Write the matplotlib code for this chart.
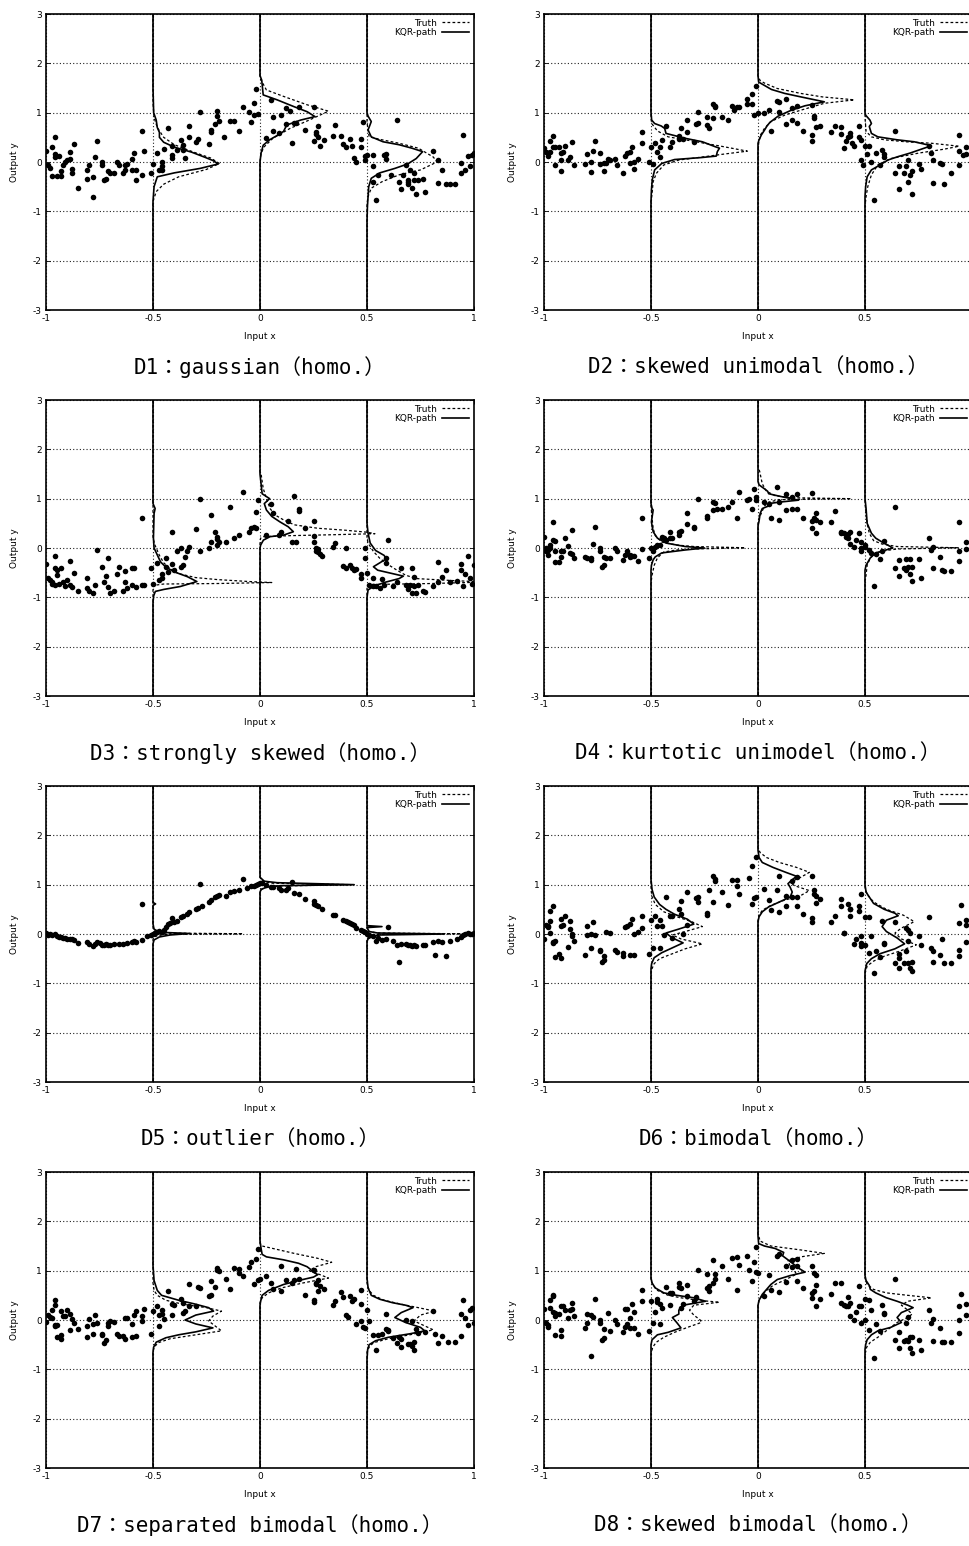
import numpy as np
import matplotlib
matplotlib.use('Agg')
import matplotlib.pyplot as plt
from matplotlib.lines import Line2D
from matplotlib import font_manager as fm

plt.rcParams['axes.unicode_minus'] = False

LOCS = [-0.5, 0.0, 0.5]
TITLES = ['D1：gaussian（homo.）', 'D2：skewed unimodal（homo.）',
          'D3：strongly skewed（homo.）', 'D4：kurtotic unimodel（homo.）',
          'D5：outlier（homo.）', 'D6：bimodal（homo.）',
          'D7：separated bimodal（homo.）', 'D8：skewed bimodal（homo.）']

# ---------------- D1 ----------------
d1_pts = [(-1.0,0.23),(-0.99,-0.07),(-0.98,-0.13),(-0.97,-0.28),(-0.97,0.31),(-0.96,0.51),(-0.96,0.11),(-0.96,0.16),
    (-0.95,-0.28),(-0.94,0.12),(-0.93,-0.18),(-0.93,-0.28),(-0.92,-0.07),(-0.91,0.0),(-0.90,0.05),(-0.89,0.2),(-0.89,0.07),
    (-0.88,-0.23),(-0.88,-0.15),(-0.87,0.37),(-0.85,-0.53),(-0.81,-0.16),(-0.81,-0.35),(-0.80,-0.06),(-0.78,-0.7),(-0.78,-0.3),
    (-0.77,0.1),(-0.76,0.43),(-0.74,0.01),(-0.74,-0.06),(-0.73,-0.37),(-0.72,-0.34),(-0.71,-0.18),(-0.70,-0.23),(-0.68,-0.23),
    (-0.67,0.01),(-0.66,-0.07),(-0.64,-0.23),(-0.63,-0.07),(-0.63,-0.16),(-0.62,-0.05),(-0.60,-0.16),(-0.60,0.07),(-0.59,0.18),
    (-0.58,-0.16),(-0.58,-0.37),(-0.55,-0.26),(-0.55,0.62),(-0.54,0.23),(-0.51,-0.22),(-0.50,-0.05),(-0.48,0.18),(-0.47,-0.16),
    (-0.46,-0.09),(-0.46,-0.16),(-0.46,-0.01),(-0.45,0.26),(-0.43,0.68),(-0.41,0.33),(-0.41,0.14),(-0.41,0.09),(-0.39,0.24),
    (-0.37,0.45),(-0.36,0.24),(-0.36,0.35),(-0.35,0.08),(-0.33,0.72),(-0.33,0.5),(-0.30,0.41),(-0.29,0.46),(-0.28,1.01),
    (-0.24,0.37),(-0.23,0.6),(-0.23,0.65),(-0.21,0.78),(-0.20,1.04),(-0.20,0.93),(-0.19,0.84),(-0.17,0.5),(-0.14,0.84),
    (-0.12,0.84),(-0.10,0.62),(-0.08,1.12),(-0.05,1.02),(-0.04,0.82),(-0.03,1.2),(-0.03,0.95),(-0.02,1.47),(-0.01,0.97),
    (0.03,0.49),(0.05,1.26),(0.06,0.92),(0.06,0.63),(0.09,0.58),(0.10,0.95),(0.12,1.09),(0.12,0.77),(0.14,1.04),(0.15,0.38),
    (0.16,0.79),(0.17,0.8),(0.18,1.11),(0.21,0.64),(0.25,1.11),(0.25,0.42),(0.26,0.6),(0.26,0.56),(0.27,0.72),(0.27,0.51),
    (0.28,0.33),(0.30,0.45),(0.35,0.75),(0.34,0.53),(0.38,0.53),(0.39,0.37),(0.40,0.31),(0.42,0.46),(0.43,0.33),(0.44,0.09),
    (0.45,0.01),(0.47,0.46),(0.47,0.31),(0.48,0.82),(0.49,0.13),(0.49,0.05),(0.50,0.14),(0.53,0.14),(0.53,-0.09),(0.53,-0.4),
    (0.54,-0.77),(0.55,-0.26),(0.58,0.14),(0.59,0.07),(0.59,0.16),(0.61,-0.26),(0.64,0.85),(0.65,-0.4),(0.66,-0.55),(0.67,-0.26),
    (0.68,-0.06),(0.69,-0.4),(0.69,-0.45),(0.69,-0.36),(0.70,-0.16),(0.71,-0.53),(0.72,-0.36),(0.72,-0.23),(0.73,-0.65),
    (0.74,-0.36),(0.76,-0.35),(0.77,-0.6),(0.81,0.22),(0.83,0.04),(0.83,-0.42),(0.85,-0.16),(0.87,-0.45),(0.89,-0.45),
    (0.91,-0.45),(0.94,-0.23),(0.94,-0.03),(0.95,0.55),(0.96,-0.16),(0.97,0.13),(0.98,-0.09),(0.99,0.14),(1.0,0.19)]
# density curves: (y, horizontal offset from the x location)
d1_truth = [
    [(1.2,0),(0.9,0.005),(0.7,0.02),(0.5,0.05),(0.35,0.1),(0.2,0.19),(0.08,0.27),(-0.03,0.31),(-0.15,0.25),(-0.3,0.12),
     (-0.45,0.05),(-0.6,0.015),(-0.8,0)],
    [(1.7,0),(1.62,0.01),(1.46,0.03),(1.33,0.11),(1.16,0.22),(1.03,0.32),(0.85,0.23),(0.68,0.14),(0.48,0.06),(0.31,0.02),
     (0.18,0.005),(0.0,0)],
    [(0.8,0),(0.51,0.01),(0.45,0.07),(0.38,0.15),(0.28,0.24),(0.1,0.31),(0.0,0.327),(-0.16,0.25),(-0.26,0.15),(-0.4,0.07),
     (-0.53,0.02),(-0.7,0.005),(-0.85,0)]]
d1_kqr = [
    [(1.5,0),(1.0,0.003),(0.85,0.015),(0.7,0.02),(0.6,0.03),(0.5,0.03),(0.4,0.05),(0.3,0.1),(0.2,0.18),(0.1,0.24),(0.03,0.28),
     (-0.04,0.305),(-0.13,0.22),(-0.22,0.1),(-0.3,0.02),(-0.5,0.005),(-0.8,0)],
    [(1.75,0),(1.66,0.008),(1.36,0.015),(1.26,0.08),(1.12,0.16),(1.02,0.22),(0.92,0.257),(0.85,0.19),(0.75,0.125),(0.62,0.11),
     (0.55,0.085),(0.45,0.045),(0.34,0.015),(0.18,0.005),(0.0,0)],
    [(1.0,0),(0.93,0.005),(0.82,0.02),(0.65,0.005),(0.51,0.02),(0.41,0.075),(0.35,0.15),(0.28,0.21),(0.21,0.26),(0.07,0.23),
     (-0.04,0.19),(-0.13,0.13),(-0.22,0.06),(-0.33,0.02),(-0.5,0.008),(-0.9,0.002),(-1.2,0)]]

# ---------------- D2 ----------------
d2_pts = [(-1.0,0.28),(-0.99,0.21),(-0.98,0.18),(-0.98,0.12),(-0.97,0.21),(-0.97,0.43),(-0.96,0.53),(-0.96,0.31),(-0.95,-0.07),
    (-0.95,0.31),(-0.93,0.31),(-0.92,-0.18),(-0.92,0.19),(-0.92,0.05),(-0.91,0.2),(-0.90,0.33),(-0.89,0.05),(-0.88,0.11),
    (-0.87,0.41),(-0.86,-0.07),(-0.81,-0.04),(-0.80,0.16),(-0.78,-0.2),(-0.78,0.01),(-0.77,0.23),(-0.76,0.43),(-0.74,0.18),
    (-0.74,-0.04),(-0.72,-0.03),(-0.72,-0.18),(-0.71,-0.03),(-0.70,0.07),(-0.69,0.05),(-0.67,0.07),(-0.66,-0.06),(-0.63,-0.23),
    (-0.62,0.13),(-0.61,0.18),(-0.60,0.21),(-0.60,-0.03),(-0.59,0.31),(-0.58,-0.15),(-0.58,0.01),(-0.56,0.07),(-0.54,0.61),
    (-0.54,0.38),(-0.51,-0.01),(-0.50,0.31),(-0.49,-0.04),(-0.48,0.38),(-0.47,0.21),(-0.46,0.11),(-0.46,0.31),(-0.45,0.45),
    (-0.43,0.72),(-0.41,0.31),(-0.40,0.41),(-0.37,0.53),(-0.37,0.46),(-0.36,0.68),(-0.35,0.46),(-0.33,0.85),(-0.33,0.6),
    (-0.30,0.41),(-0.29,0.77),(-0.28,0.8),(-0.28,1.02),(-0.24,0.75),(-0.24,0.92),(-0.23,0.68),(-0.21,0.89),(-0.21,1.18),
    (-0.20,1.14),(-0.20,1.11),(-0.17,0.91),(-0.14,0.85),(-0.12,1.14),(-0.11,1.05),(-0.10,1.12),(-0.09,1.11),(-0.05,1.27),
    (-0.05,1.18),(-0.03,1.18),(-0.03,1.38),(-0.02,0.95),(-0.01,1.54),(0.0,0.99),(0.03,0.99),(0.05,1.05),(0.06,0.63),
    (0.09,1.24),(0.10,1.22),(0.10,1.02),(0.13,1.27),(0.13,0.78),(0.16,0.85),(0.16,1.09),(0.18,1.14),(0.18,0.8),(0.21,0.63),
    (0.25,1.16),(0.25,0.55),(0.25,0.42),(0.26,0.89),(0.26,0.93),(0.27,0.7),(0.29,0.73),(0.34,0.61),(0.36,0.73),(0.39,0.7),
    (0.39,0.57),(0.40,0.28),(0.41,0.43),(0.42,0.51),(0.43,0.59),(0.43,0.53),(0.44,0.39),(0.45,0.33),(0.47,0.51),(0.47,0.73),
    (0.48,0.45),(0.48,0.04),(0.49,-0.07),(0.50,0.33),(0.51,0.16),(0.52,0.33),(0.53,0.01),(0.54,-0.77),(0.55,0.18),(0.57,-0.06),
    (0.58,0.24),(0.59,0.11),(0.59,0.16),(0.64,0.62),(0.64,-0.22),(0.66,-0.55),(0.66,-0.09),(0.68,-0.22),(0.69,-0.09),
    (0.70,0.05),(0.70,-0.4),(0.71,-0.26),(0.72,-0.18),(0.72,-0.65),(0.75,-0.04),(0.76,-0.15),(0.80,0.33),(0.81,0.18),
    (0.82,-0.42),(0.82,0.04),(0.85,-0.03),(0.86,-0.04),(0.87,-0.45),(0.90,-0.22),(0.94,0.55),(0.94,0.23),(0.94,-0.06),
    (0.96,0.14),(0.97,0.31),(0.97,0.16)]
d2_truth = [
    [(0.9,0),(0.78,0.003),(0.63,0.03),(0.51,0.08),(0.45,0.16),(0.38,0.25),(0.31,0.34),(0.22,0.45),(0.16,0.34),(0.09,0.22),
     (0.04,0.13),(-0.06,0.06),(-0.23,0.025),(-0.4,0.01),(-0.64,0.005),(-0.8,0)],
    [(1.75,0),(1.65,0.01),(1.6,0.03),(1.49,0.09),(1.39,0.2),(1.32,0.3),(1.26,0.45),(1.19,0.31),(1.05,0.2),(0.95,0.125),
     (0.82,0.06),(0.68,0.03),(0.55,0.012),(0.38,0.003),(0.2,0)],
    [(0.9,0),(0.62,0.005),(0.51,0.03),(0.45,0.09),(0.41,0.19),(0.38,0.31),(0.32,0.44),(0.26,0.37),(0.18,0.25),(0.07,0.12),
     (-0.06,0.06),(-0.26,0.03),(-0.5,0.013),(-0.7,0.005),(-0.9,0)]]
d2_kqr = [
    [(1.0,0),(0.85,0.003),(0.78,0.017),(0.73,0.048),(0.68,0.064),(0.58,0.07),(0.48,0.16),(0.41,0.24),(0.31,0.3),(0.28,0.32),
     (0.21,0.31),(0.12,0.305),(0.09,0.235),(0.05,0.11),(-0.03,0.05),(-0.16,0.017),(-0.36,0.006),(-0.57,0.002),(-0.8,0)],
    [(1.75,0),(1.62,0.003),(1.47,0.063),(1.39,0.125),(1.32,0.2),(1.22,0.31),(1.14,0.22),(1.05,0.156),(0.93,0.094),(0.8,0.055),
     (0.73,0.042),(0.65,0.031),(0.55,0.016),(0.45,0.005),(0.38,0)],
    [(1.0,0),(0.95,0.003),(0.85,0.023),(0.78,0.03),(0.72,0.02),(0.58,0.03),(0.51,0.06),(0.45,0.15),(0.41,0.23),(0.36,0.28),
     (0.33,0.31),(0.18,0.21),(0.11,0.155),(0.04,0.107),(-0.06,0.07),(-0.16,0.03),(-0.3,0.01),(-0.5,0.003),(-0.7,0)]]

# ---------------- D3 ----------------
d3_pts = [(-1.0,-0.32),(-0.99,-0.61),(-0.98,-0.65),(-0.97,-0.72),(-0.97,-0.68),(-0.96,-0.75),(-0.96,-0.16),(-0.96,-0.41),
    (-0.95,-0.55),(-0.95,-0.45),(-0.94,-0.72),(-0.93,-0.40),(-0.92,-0.68),(-0.91,-0.78),(-0.90,-0.65),(-0.89,-0.26),(-0.89,-0.75),
    (-0.88,-0.8),(-0.87,-0.51),(-0.85,-0.87),(-0.81,-0.6),(-0.81,-0.82),(-0.80,-0.88),(-0.78,-0.92),(-0.77,-0.74),(-0.76,-0.04),
    (-0.74,-0.38),(-0.73,-0.68),(-0.72,-0.56),(-0.71,-0.21),(-0.71,-0.8),(-0.70,-0.92),(-0.68,-0.87),(-0.67,-0.53),(-0.66,-0.38),
    (-0.64,-0.88),(-0.63,-0.47),(-0.63,-0.68),(-0.62,-0.82),(-0.60,-0.41),(-0.60,-0.75),(-0.59,-0.4),(-0.58,-0.8),(-0.55,-0.74),
    (-0.55,0.61),(-0.54,-0.75),(-0.51,-0.4),(-0.50,-0.72),(-0.48,-0.31),(-0.47,-0.65),(-0.46,-0.6),(-0.46,-0.53),(-0.44,-0.38),
    (-0.44,-0.21),(-0.43,-0.48),(-0.41,0.33),(-0.41,-0.33),(-0.40,-0.45),(-0.39,-0.07),(-0.37,-0.38),(-0.37,0.0),(-0.36,-0.34),
    (-0.35,-0.18),(-0.34,-0.07),(-0.33,0.03),(-0.30,0.39),(-0.28,-0.06),(-0.28,1.0),(-0.24,0.0),(-0.23,0.13),(-0.23,0.67),
    (-0.21,0.33),(-0.20,0.07),(-0.20,0.18),(-0.20,0.23),(-0.19,0.13),(-0.16,0.13),(-0.14,0.84),(-0.12,0.21),(-0.10,0.26),
    (-0.08,1.13),(-0.05,0.33),(-0.04,0.4),(-0.03,0.43),(-0.02,0.72),(-0.02,0.41),(-0.01,0.97),(0.03,0.26),(0.05,0.9),(0.06,0.7),
    (0.09,0.26),(0.10,0.33),(0.13,0.55),(0.15,0.13),(0.16,1.05),(0.17,0.13),(0.18,0.8),(0.18,0.75),(0.21,0.4),(0.25,0.55),
    (0.25,0.25),(0.25,0.13),(0.26,-0.01),(0.26,-0.07),(0.27,-0.02),(0.27,-0.09),(0.28,-0.13),(0.29,-0.16),(0.34,0.03),(0.35,0.11),
    (0.39,-0.36),(0.40,0.0),(0.40,-0.4),(0.42,-0.34),(0.43,-0.4),(0.44,-0.45),(0.45,-0.43),(0.47,-0.53),(0.47,-0.61),(0.49,-0.21),
    (0.49,0.0),(0.50,-0.51),(0.51,-0.74),(0.53,-0.78),(0.53,-0.61),(0.54,-0.78),(0.56,-0.82),(0.57,-0.63),(0.58,-0.75),
    (0.59,-0.21),(0.59,-0.3),(0.60,0.16),(0.62,-0.78),(0.64,-0.68),(0.66,-0.41),(0.68,-0.75),(0.69,-0.83),(0.70,-0.74),
    (0.71,-0.4),(0.71,-0.92),(0.72,-0.78),(0.72,-0.58),(0.73,-0.92),(0.74,-0.75),(0.76,-0.87),(0.77,-0.9),(0.81,-0.78),
    (0.83,-0.28),(0.83,-0.68),(0.85,-0.58),(0.87,-0.45),(0.89,-0.68),(0.92,-0.67),(0.94,-0.45),(0.94,-0.33),(0.95,-0.78),
    (0.96,-0.53),(0.97,-0.17),(0.98,-0.61),(0.99,-0.72),(1.0,-0.34)]
d3_truth = [
    [(0.2,0),(0.05,0.01),(-0.15,0.03),(-0.3,0.05),(-0.42,0.08),(-0.52,0.12),(-0.6,0.2),(-0.64,0.3),(-0.68,0.45),(-0.70,0.555),
     (-0.72,0.3),(-0.73,0.05),(-0.76,0)],
    [(1.55,0),(1.5,0.005),(1.21,0.015),(1.0,0.03),(0.8,0.047),(0.67,0.07),(0.57,0.11),(0.47,0.16),(0.4,0.27),(0.36,0.4),
     (0.32,0.5),(0.29,0.537),(0.27,0.35),(0.25,0.14),(0.23,0.015),(0.2,0.003),(0.15,0)],
    [(0.2,0),(0.1,0.005),(-0.07,0.03),(-0.21,0.06),(-0.34,0.1),(-0.45,0.14),(-0.55,0.18),(-0.62,0.23),(-0.66,0.4),(-0.69,0.555),
     (-0.72,0.3),(-0.74,0.02),(-0.77,0)]]
d3_kqr = [
    [(0.9,0),(0.8,0.01),(0.7,0.005),(0.53,0.004),(0.2,0.002),(0.0,0.005),(-0.14,0.02),(-0.28,0.035),(-0.38,0.058),(-0.48,0.097),
     (-0.58,0.16),(-0.68,0.205),(-0.78,0.128),(-0.84,0.05),(-0.88,0.011),(-0.97,0.003),(-1.1,0)],
    [(1.5,0),(1.3,0.005),(1.1,0.01),(1.0,0.045),(0.9,0.02),(0.77,0.03),(0.64,0.055),(0.53,0.093),(0.43,0.132),(0.33,0.156),
     (0.26,0.109),(0.23,0.047),(0.16,0.016),(0.06,0.003),(0.0,0)],
    [(0.5,0),(0.3,0.005),(0.1,0.015),(-0.05,0.04),(-0.15,0.08),(-0.22,0.09),(-0.3,0.06),(-0.38,0.03),(-0.45,0.05),(-0.52,0.12),
     (-0.57,0.17),(-0.62,0.15),(-0.7,0.08),(-0.78,0.03),(-0.85,0.005),(-1.0,0)]]

# ---------------- D4 ----------------
d4_pts = [(-1.0,0.23),(-0.99,-0.01),(-0.99,-0.07),(-0.98,-0.14),(-0.98,-0.04),(-0.97,0.01),(-0.97,0.07),(-0.96,0.52),(-0.96,0.16),
    (-0.95,0.14),(-0.95,-0.29),(-0.95,-0.06),(-0.93,-0.29),(-0.92,-0.18),(-0.92,-0.07),(-0.91,-0.07),(-0.90,0.2),(-0.89,0.05),
    (-0.88,-0.11),(-0.87,0.36),(-0.87,-0.13),(-0.86,-0.2),(-0.81,-0.18),(-0.80,-0.2),(-0.78,-0.24),(-0.78,-0.21),(-0.77,0.09),
    (-0.76,0.43),(-0.74,-0.01),(-0.74,-0.07),(-0.73,-0.38),(-0.72,-0.34),(-0.72,-0.18),(-0.71,-0.21),(-0.69,-0.21),(-0.67,0.0),
    (-0.66,-0.07),(-0.63,-0.24),(-0.62,-0.14),(-0.61,-0.07),(-0.60,-0.18),(-0.60,-0.14),(-0.59,-0.16),(-0.58,-0.16),(-0.56,-0.26),
    (-0.54,0.61),(-0.54,-0.02),(-0.51,-0.21),(-0.50,-0.01),(-0.49,-0.06),(-0.48,0.03),(-0.47,0.07),(-0.46,0.06),(-0.45,0.23),
    (-0.44,0.21),(-0.43,0.16),(-0.41,0.2),(-0.41,0.33),(-0.40,0.21),(-0.37,0.26),(-0.37,0.33),(-0.36,0.35),(-0.33,0.7),
    (-0.33,0.48),(-0.30,0.4),(-0.30,0.43),(-0.28,1.0),(-0.24,0.64),(-0.24,0.6),(-0.21,0.94),(-0.20,0.92),(-0.21,0.77),
    (-0.19,0.79),(-0.17,0.8),(-0.14,0.84),(-0.12,0.94),(-0.10,0.6),(-0.09,1.13),(-0.05,0.97),(-0.04,1.0),(-0.03,0.8),
    (-0.02,1.19),(-0.01,1.04),(-0.01,0.97),(0.03,0.94),(0.05,0.9),(0.06,0.61),(0.09,1.24),(0.10,0.57),(0.10,0.94),(0.13,1.09),
    (0.13,0.77),(0.16,1.04),(0.16,0.8),(0.18,0.8),(0.18,1.09),(0.21,0.61),(0.25,1.11),(0.25,0.41),(0.25,0.55),(0.26,0.61),
    (0.27,0.7),(0.27,0.3),(0.27,0.57),(0.29,0.52),(0.34,0.53),(0.36,0.75),(0.39,0.33),(0.39,0.3),(0.40,0.3),(0.41,0.23),
    (0.42,0.28),(0.42,0.2),(0.43,0.33),(0.43,0.08),(0.45,0.03),(0.46,0.16),(0.47,0.3),(0.48,0.13),(0.48,-0.01),(0.48,-0.07),
    (0.50,0.06),(0.50,0.03),(0.52,-0.04),(0.53,-0.11),(0.54,-0.77),(0.55,-0.13),(0.57,-0.22),(0.58,-0.07),(0.59,0.14),
    (0.64,0.84),(0.64,-0.41),(0.66,-0.56),(0.66,-0.24),(0.68,-0.4),(0.69,-0.45),(0.69,-0.22),(0.70,-0.38),(0.71,-0.53),
    (0.71,-0.22),(0.72,-0.38),(0.72,-0.67),(0.75,-0.22),(0.76,-0.61),(0.80,0.21),(0.81,-0.04),(0.82,-0.41),(0.82,0.03),
    (0.85,-0.18),(0.86,-0.45),(0.87,-0.46),(0.90,-0.46),(0.94,-0.26),(0.94,0.53),(0.94,-0.07),(0.97,0.13),(0.97,-0.03)]
d4_truth = [
    [(0.85,0),(0.6,0.005),(0.4,0.01),(0.25,0.02),(0.12,0.05),(0.06,0.12),(0.03,0.2),(0.005,0.44),(-0.02,0.2),(-0.04,0.12),
     (-0.08,0.06),(-0.2,0.03),(-0.35,0.015),(-0.55,0.005),(-0.7,0)],
    [(1.65,0),(1.55,0.008),(1.3,0.02),(1.15,0.04),(1.06,0.08),(1.02,0.15),(1.0,0.436),(0.98,0.1),(0.93,0.05),(0.85,0.03),
     (0.7,0.015),(0.6,0.005),(0.5,0)],
    [(0.9,0),(0.5,0.01),(0.3,0.02),(0.15,0.04),(0.08,0.08),(0.03,0.15),(0.005,0.436),(-0.02,0.15),(-0.05,0.1),(-0.1,0.05),
     (-0.2,0.025),(-0.35,0.01),(-0.55,0.005),(-0.65,0)]]
d4_kqr = [
    [(0.9,0),(0.8,0.005),(0.77,0.01),(0.53,0.002),(0.33,0.01),(0.2,0.03),(0.1,0.07),(0.03,0.16),(0.0,0.25),(-0.04,0.16),
     (-0.1,0.05),(-0.18,0.02),(-0.24,0.01),(-0.35,0.002),(-0.45,0)],
    [(1.35,0),(1.28,0.005),(1.2,0.03),(1.15,0.045),(1.1,0.05),(1.05,0.1),(0.97,0.19),(0.93,0.1),(0.9,0.05),(0.87,0.06),
     (0.8,0.02),(0.7,0.01),(0.55,0.005),(0.45,0)],
    [(1.0,0),(0.8,0.005),(0.5,0.01),(0.3,0.03),(0.2,0.05),(0.12,0.08),(0.05,0.11),(0.0,0.13),(-0.05,0.09),(-0.1,0.05),
     (-0.2,0.025),(-0.35,0.005),(-0.45,0)]]

# ---------------- D5 ----------------
d5_pts = [(-1.0,0.02),(-0.99,-0.02),(-0.98,-0.01),(-0.97,-0.03),(-0.96,0.0),(-0.95,-0.04),(-0.94,-0.06),(-0.93,-0.07),(-0.92,-0.09),
    (-0.91,-0.08),(-0.9,-0.1),(-0.89,-0.1),(-0.88,-0.11),(-0.87,-0.13),(-0.85,-0.19),(-0.81,-0.16),(-0.8,-0.2),(-0.78,-0.24),
    (-0.77,-0.2),(-0.76,-0.17),(-0.75,-0.18),(-0.74,-0.22),(-0.73,-0.23),(-0.72,-0.2),(-0.71,-0.23),(-0.7,-0.22),(-0.68,-0.21),
    (-0.66,-0.2),(-0.64,-0.2),(-0.62,-0.18),(-0.6,-0.16),(-0.59,-0.15),(-0.58,-0.16),(-0.55,-0.12),(-0.55,0.61),(-0.53,-0.05),
    (-0.51,-0.03),(-0.5,0.0),(-0.49,0.02),(-0.48,0.04),(-0.47,0.06),(-0.46,0.05),(-0.45,0.08),(-0.44,0.15),(-0.43,0.2),
    (-0.42,0.22),(-0.41,0.32),(-0.40,0.24),(-0.39,0.27),(-0.37,0.34),(-0.36,0.36),(-0.34,0.4),(-0.33,0.44),(-0.3,0.5),
    (-0.29,0.53),(-0.28,1.01),(-0.27,0.56),(-0.24,0.64),(-0.23,0.68),(-0.21,0.76),(-0.2,0.78),(-0.19,0.79),(-0.16,0.77),
    (-0.14,0.85),(-0.12,0.87),(-0.1,0.89),(-0.08,1.12),(-0.06,0.93),(-0.04,0.97),(-0.03,0.98),(-0.02,1.0),(-0.01,1.02),
    (0.0,1.04),(0.01,1.03),(0.03,0.99),(0.05,0.96),(0.06,0.95),(0.09,0.94),(0.1,0.9),(0.12,0.89),(0.13,0.93),(0.15,1.05),
    (0.16,0.83),(0.18,0.82),(0.21,0.71),(0.25,0.66),(0.25,0.6),(0.26,0.58),(0.27,0.56),(0.29,0.5),(0.34,0.39),(0.35,0.38),
    (0.39,0.29),(0.40,0.27),(0.41,0.24),(0.42,0.22),(0.43,0.2),(0.44,0.18),(0.45,0.12),(0.47,0.09),(0.48,0.07),(0.49,0.04),
    (0.5,0.01),(0.51,-0.02),(0.53,-0.05),(0.54,-0.14),(0.55,-0.08),(0.57,-0.12),(0.59,-0.1),(0.6,0.15),(0.62,-0.14),
    (0.64,-0.22),(0.65,-0.56),(0.66,-0.21),(0.68,-0.2),(0.69,-0.23),(0.7,-0.22),(0.71,-0.24),(0.72,-0.22),(0.73,-0.25),
    (0.76,-0.22),(0.77,-0.23),(0.81,-0.16),(0.82,-0.42),(0.83,-0.14),(0.85,-0.16),(0.87,-0.45),(0.89,-0.15),(0.92,-0.1),
    (0.94,-0.06),(0.95,-0.03),(0.96,0.0),(0.97,0.02),(0.98,-0.01),(0.99,0.0),(1.0,0.02)]
d5_truth = [
    [(0.1,0),(0.05,0.01),(0.02,0.05),(0.005,0.42),(-0.01,0.05),(-0.05,0.01),(-0.1,0)],
    [(1.15,0),(1.08,0.01),(1.03,0.05),(1.0,0.43),(0.97,0.05),(0.92,0.01),(0.85,0)],
    [(0.1,0),(0.05,0.01),(0.02,0.05),(0.005,0.44),(-0.01,0.05),(-0.05,0.01),(-0.1,0)]]
d5_kqr = [
    [(0.7,0),(0.64,0.0),(0.61,0.012),(0.58,0.0),(0.2,0.0),(0.1,0.005),(0.06,0.02),(0.03,0.06),(0.01,0.17),(-0.02,0.08),
     (-0.06,0.03),(-0.12,0.005),(-0.2,0)],
    [(1.15,0),(1.07,0.02),(1.04,0.08),(1.0,0.44),(0.98,0.1),(0.95,0.03),(0.9,0.005),(0.85,0)],
    [(0.3,0),(0.17,0.0),(0.15,0.07),(0.13,0.0),(0.05,0.01),(0.02,0.05),(0.0,0.36),(-0.02,0.06),(-0.06,0.02),(-0.1,0.005),
     (-0.15,0)]]

# ---------------- D6 ----------------
d6_pts = [(-1.0,-0.1),(-0.99,0.19),(-0.98,0.17),(-0.98,0.14),(-0.97,0.03),(-0.97,0.26),(-0.97,0.46),(-0.96,0.56),(-0.96,-0.17),
    (-0.96,-0.18),(-0.95,-0.15),(-0.95,-0.47),(-0.93,-0.4),(-0.92,-0.49),(-0.92,0.17),(-0.92,0.3),(-0.91,0.19),(-0.90,0.36),
    (-0.89,-0.26),(-0.88,0.26),(-0.88,0.1),(-0.87,0.01),(-0.87,-0.05),(-0.86,-0.15),(-0.81,-0.42),(-0.80,-0.03),(-0.80,0.16),
    (-0.78,-0.28),(-0.78,-0.01),(-0.77,0.24),(-0.76,-0.03),(-0.74,-0.32),(-0.74,-0.35),(-0.73,-0.57),(-0.72,-0.53),(-0.72,-0.45),
    (-0.71,0.05),(-0.69,0.03),(-0.67,-0.32),(-0.66,-0.37),(-0.63,-0.45),(-0.62,0.14),(-0.61,0.16),(-0.63,-0.38),(-0.60,-0.42),
    (-0.60,0.21),(-0.59,0.3),(-0.58,-0.42),(-0.58,-0.01),(-0.56,0.05),(-0.54,0.36),(-0.54,0.12),(-0.51,-0.4),(-0.50,0.29),
    (-0.49,-0.28),(-0.48,0.37),(-0.47,0.16),(-0.46,-0.28),(-0.46,0.28),(-0.45,0.16),(-0.44,-0.03),(-0.43,0.76),(-0.41,0.37),
    (-0.40,0.37),(-0.40,-0.08),(-0.37,0.51),(-0.36,0.66),(-0.36,0.41),(-0.35,0.01),(-0.33,0.19),(-0.33,0.85),(-0.29,0.73),
    (-0.28,0.75),(-0.28,0.64),(-0.24,0.38),(-0.24,0.43),(-0.23,0.89),(-0.21,0.64),(-0.21,1.17),(-0.20,1.11),(-0.20,1.07),
    (-0.17,0.86),(-0.14,0.59),(-0.12,1.1),(-0.10,0.97),(-0.10,1.1),(-0.09,0.82),(-0.04,1.14),(-0.03,0.61),(-0.03,1.37),
    (-0.02,0.73),(-0.01,1.57),(-0.01,0.74),(0.03,0.91),(0.05,0.68),(0.06,0.48),(0.09,0.9),(0.10,0.44),(0.10,1.18),(0.13,0.57),
    (0.13,0.78),(0.16,0.76),(0.16,1.07),(0.18,1.16),(0.18,0.75),(0.18,0.56),(0.21,0.41),(0.25,1.18),(0.25,0.32),(0.25,0.24),
    (0.26,0.82),(0.26,0.9),(0.27,0.78),(0.27,0.63),(0.29,0.7),(0.34,0.24),(0.36,0.36),(0.39,0.7),(0.39,0.57),(0.40,0.03),
    (0.40,0.02),(0.42,0.61),(0.43,0.51),(0.43,0.36),(0.43,0.51),(0.45,-0.2),(0.46,-0.11),(0.47,0.57),(0.47,0.46),(0.48,0.82),
    (0.48,-0.24),(0.48,-0.18),(0.48,-0.05),(0.50,0.34),(0.50,-0.22),(0.52,0.34),(0.52,-0.39),(0.53,-0.05),(0.54,-0.79),
    (0.55,-0.35),(0.57,-0.47),(0.58,0.26),(0.59,-0.2),(0.59,-0.18),(0.64,0.24),(0.64,-0.59),(0.66,-0.69),(0.66,-0.4),
    (0.66,-0.49),(0.68,-0.59),(0.69,0.12),(0.69,-0.35),(0.70,-0.15),(0.70,0.09),(0.70,-0.59),(0.71,-0.69),(0.71,0.02),
    (0.72,-0.57),(0.72,-0.76),(0.75,-0.05),(0.76,-0.22),(0.80,0.34),(0.81,-0.28),(0.82,-0.57),(0.82,-0.35),(0.85,-0.42),
    (0.86,-0.1),(0.87,-0.59),(0.90,-0.59),(0.94,-0.45),(0.94,-0.32),(0.94,0.22),(0.95,0.59),(0.97,-0.17),(0.97,0.29),(0.97,0.19)]
d6_truth = [
    [(0.9,0),(0.75,0.005),(0.6,0.02),(0.45,0.06),(0.35,0.12),(0.25,0.19),(0.15,0.24),(0.05,0.16),(-0.02,0.1),(-0.1,0.14),
     (-0.2,0.24),(-0.3,0.16),(-0.4,0.1),(-0.5,0.04),(-0.6,0.015),(-0.75,0)],
    [(1.75,0),(1.65,0.01),(1.55,0.04),(1.45,0.1),(1.35,0.18),(1.25,0.24),(1.15,0.2),(1.05,0.15),(0.98,0.17),(0.88,0.24),
     (0.78,0.2),(0.68,0.12),(0.58,0.06),(0.48,0.02),(0.38,0.005),(0.3,0)],
    [(0.95,0),(0.8,0.01),(0.65,0.04),(0.5,0.1),(0.38,0.18),(0.25,0.23),(0.12,0.17),(0.02,0.14),(-0.1,0.17),(-0.22,0.24),
     (-0.35,0.16),(-0.45,0.09),(-0.55,0.04),(-0.65,0.01),(-0.8,0)]]
d6_kqr = [
    [(1.1,0),(0.9,0.005),(0.75,0.015),(0.6,0.04),(0.5,0.07),(0.4,0.11),(0.3,0.17),(0.2,0.2),(0.1,0.13),(0.02,0.07),
     (-0.08,0.1),(-0.18,0.15),(-0.28,0.1),(-0.38,0.05),(-0.48,0.015),(-0.6,0.003),(-0.7,0)],
    [(1.7,0),(1.55,0.005),(1.45,0.02),(1.35,0.07),(1.25,0.13),(1.17,0.18),(1.1,0.16),(1.02,0.14),(0.95,0.15),(0.85,0.16),
     (0.75,0.15),(0.65,0.1),(0.55,0.05),(0.45,0.02),(0.35,0.005),(0.25,0)],
    [(1.0,0),(0.85,0.005),(0.75,0.02),(0.62,0.04),(0.5,0.09),(0.42,0.14),(0.37,0.155),(0.28,0.1),(0.15,0.08),(0.05,0.1),
     (-0.08,0.15),(-0.2,0.185),(-0.3,0.14),(-0.4,0.07),(-0.5,0.03),(-0.6,0.008),(-0.75,0)]]

# ---------------- D7 ----------------
d7_pts = [(-1.0,-0.05),(-0.99,0.11),(-0.98,0.07),(-0.97,0.04),(-0.97,0.2),(-0.96,0.3),(-0.96,0.4),(-0.96,-0.11),(-0.96,-0.13),
    (-0.95,-0.11),(-0.95,-0.34),(-0.93,0.18),(-0.93,-0.3),(-0.93,-0.38),(-0.92,0.09),(-0.91,0.09),(-0.90,0.21),(-0.89,-0.21),
    (-0.89,0.13),(-0.88,0.02),(-0.87,-0.06),(-0.85,-0.18),(-0.81,-0.34),(-0.81,-0.13),(-0.80,0.02),(-0.78,-0.28),(-0.78,-0.09),
    (-0.77,0.11),(-0.76,-0.06),(-0.74,-0.28),(-0.74,-0.31),(-0.73,-0.47),(-0.72,-0.4),(-0.71,-0.06),(-0.71,-0.13),(-0.70,-0.03),
    (-0.68,-0.05),(-0.67,-0.28),(-0.66,-0.33),(-0.64,-0.33),(-0.63,-0.39),(-0.63,0.04),(-0.62,0.04),(-0.60,-0.34),(-0.60,-0.09),
    (-0.59,0.11),(-0.58,0.18),(-0.58,-0.32),(-0.55,-0.03),(-0.55,0.09),(-0.54,0.23),(-0.51,-0.28),(-0.50,0.18),(-0.48,0.28),
    (-0.47,0.11),(-0.47,-0.13),(-0.46,0.13),(-0.46,0.21),(-0.45,0.02),(-0.43,0.58),(-0.41,0.11),(-0.41,0.33),(-0.40,0.3),
    (-0.37,0.43),(-0.36,0.14),(-0.36,0.34),(-0.35,0.18),(-0.33,0.72),(-0.33,0.28),(-0.30,0.29),(-0.29,0.67),(-0.28,0.64),
    (-0.24,0.48),(-0.23,0.51),(-0.23,0.8),(-0.21,0.67),(-0.20,1.05),(-0.20,1.02),(-0.19,0.99),(-0.16,0.83),(-0.14,0.63),
    (-0.12,1.05),(-0.10,0.95),(-0.10,1.04),(-0.08,0.89),(-0.05,1.07),(-0.04,1.18),(-0.03,0.72),(-0.02,1.24),(-0.01,1.43),
    (-0.01,0.82),(0.0,0.83),(0.03,0.9),(0.05,0.75),(0.06,0.63),(0.1,0.59),(0.1,1.1),(0.12,0.82),(0.15,0.74),(0.16,0.82),
    (0.17,1.04),(0.18,0.83),(0.21,0.5),(0.25,1.02),(0.25,0.41),(0.25,0.36),(0.26,0.75),(0.26,0.72),(0.27,0.82),(0.27,0.59),
    (0.28,0.68),(0.30,0.63),(0.34,0.3),(0.35,0.38),(0.38,0.56),(0.39,0.47),(0.40,0.11),(0.41,0.07),(0.42,0.48),(0.43,0.38),
    (0.44,0.43),(0.45,-0.09),(0.47,0.33),(0.47,0.6),(0.47,-0.03),(0.48,-0.14),(0.49,-0.16),(0.50,0.21),(0.51,-0.03),
    (0.53,-0.3),(0.54,-0.6),(0.55,-0.3),(0.57,-0.28),(0.59,0.13),(0.59,-0.18),(0.6,-0.23),(0.6,-0.2),(0.62,-0.36),(0.64,-0.47),
    (0.65,-0.34),(0.66,-0.55),(0.66,-0.39),(0.68,0.0),(0.69,-0.48),(0.7,-0.49),(0.71,-0.03),(0.71,-0.53),(0.72,-0.45),
    (0.72,-0.6),(0.73,-0.18),(0.74,-0.26),(0.77,-0.25),(0.81,0.18),(0.82,-0.28),(0.83,-0.47),(0.85,-0.33),(0.88,-0.45),
    (0.91,-0.45),(0.94,-0.32),(0.94,0.13),(0.95,0.41),(0.96,0.04),(0.97,-0.11),(0.98,0.2),(0.99,0.24),(1.0,-0.07)]
d7_truth = [
    [(0.75,0),(0.6,0.005),(0.5,0.02),(0.4,0.06),(0.32,0.14),(0.25,0.25),(0.18,0.32),(0.08,0.28),(-0.02,0.26),(-0.12,0.29),
     (-0.22,0.32),(-0.3,0.2),(-0.38,0.08),(-0.46,0.025),(-0.55,0.005),(-0.65,0)],
    [(1.55,0),(1.5,0.01),(1.45,0.06),(1.35,0.16),(1.25,0.27),(1.17,0.335),(1.08,0.26),(1.0,0.23),(0.92,0.28),(0.85,0.32),
     (0.75,0.2),(0.65,0.1),(0.55,0.04),(0.45,0.01),(0.35,0)],
    [(0.75,0),(0.6,0.01),(0.5,0.03),(0.4,0.08),(0.32,0.16),(0.25,0.24),(0.18,0.316),(0.1,0.25),(-0.02,0.22),(-0.12,0.27),
     (-0.2,0.31),(-0.3,0.2),(-0.38,0.1),(-0.46,0.03),(-0.55,0.01),(-0.65,0)]]
d7_kqr = [
    [(1.5,0),(1.1,0.0),(0.8,0.005),(0.6,0.02),(0.5,0.04),(0.4,0.12),(0.33,0.19),(0.25,0.26),(0.18,0.283),(0.1,0.2),
     (0.0,0.15),(-0.08,0.2),(-0.16,0.28),(-0.24,0.2),(-0.3,0.12),(-0.36,0.06),(-0.45,0.015),(-0.55,0.003),(-0.65,0)],
    [(1.6,0),(1.45,0.005),(1.33,0.01),(1.28,0.03),(1.22,0.11),(1.15,0.18),(1.08,0.22),(1.03,0.235),(0.98,0.245),(0.92,0.27),
     (0.87,0.25),(0.8,0.18),(0.72,0.11),(0.6,0.04),(0.5,0.01),(0.38,0.003),(0.3,0)],
    [(0.85,0),(0.65,0.005),(0.5,0.02),(0.42,0.06),(0.35,0.12),(0.3,0.18),(0.25,0.215),(0.15,0.16),(0.05,0.13),(-0.05,0.18),
     (-0.15,0.25),(-0.22,0.27),(-0.28,0.2),(-0.35,0.1),(-0.42,0.04),(-0.5,0.01),(-0.6,0.003),(-0.8,0)]]

# ---------------- D8 ----------------
d8_pts = [(-1.0,0.22),(-0.99,-0.06),(-0.98,-0.11),(-0.98,-0.14),(-0.97,0.24),(-0.97,0.41),(-0.96,0.48),(-0.96,0.51),(-0.96,0.16),
    (-0.95,0.09),(-0.95,-0.3),(-0.95,0.14),(-0.93,0.12),(-0.92,-0.2),(-0.92,-0.32),(-0.92,0.29),(-0.91,0.29),(-0.90,0.21),
    (-0.89,0.04),(-0.88,0.21),(-0.87,0.22),(-0.87,0.34),(-0.86,0.09),(-0.81,-0.16),(-0.80,0.13),(-0.80,-0.07),(-0.78,-0.72),
    (-0.78,0.11),(-0.77,0.07),(-0.76,0.43),(-0.74,-0.01),(-0.74,-0.07),(-0.73,-0.4),(-0.72,-0.36),(-0.72,-0.18),(-0.70,0.14),
    (-0.69,-0.23),(-0.67,-0.01),(-0.66,-0.09),(-0.63,-0.25),(-0.62,-0.14),(-0.62,0.22),(-0.61,0.22),(-0.61,-0.08),(-0.60,-0.16),
    (-0.60,0.04),(-0.59,0.33),(-0.58,-0.16),(-0.58,0.16),(-0.56,-0.28),(-0.54,0.61),(-0.54,0.38),(-0.51,-0.23),(-0.50,0.38),
    (-0.49,-0.06),(-0.48,0.16),(-0.47,0.36),(-0.47,0.43),(-0.46,0.32),(-0.46,-0.09),(-0.45,0.24),(-0.43,0.66),(-0.41,0.55),
    (-0.40,0.55),(-0.41,0.31),(-0.37,0.66),(-0.37,0.75),(-0.36,0.24),(-0.36,0.65),(-0.35,0.33),(-0.33,0.7),(-0.33,0.48),
    (-0.30,0.38),(-0.29,0.47),(-0.28,1.01),(-0.24,0.94),(-0.24,0.65),(-0.23,0.58),(-0.23,0.68),(-0.21,0.76),(-0.21,1.21),
    (-0.20,0.94),(-0.20,0.84),(-0.17,1.09),(-0.14,0.84),(-0.12,1.25),(-0.10,0.6),(-0.10,1.27),(-0.09,1.11),(-0.05,1.29),
    (-0.04,1.01),(-0.03,0.8),(-0.02,1.18),(-0.01,1.47),(-0.01,0.97),(0.0,0.95),(0.03,0.48),(0.05,0.91),(0.06,0.61),(0.09,1.29),
    (0.10,0.56),(0.10,1.33),(0.13,1.09),(0.13,0.77),(0.16,1.07),(0.16,1.21),(0.18,1.24),(0.18,1.1),(0.18,0.8),(0.21,0.64),
    (0.25,1.09),(0.25,0.45),(0.25,0.55),(0.26,0.58),(0.26,0.95),(0.27,0.29),(0.27,0.7),(0.27,0.92),(0.29,0.43),(0.34,0.53),
    (0.36,0.75),(0.39,0.74),(0.39,0.34),(0.40,0.31),(0.41,0.29),(0.42,0.28),(0.42,0.47),(0.43,0.34),(0.43,0.09),(0.45,0.01),
    (0.46,0.16),(0.47,0.29),(0.47,0.68),(0.48,-0.06),(0.48,0.28),(0.50,0.43),(0.50,0.01),(0.52,0.4),(0.52,-0.2),(0.53,0.2),
    (0.54,-0.78),(0.55,-0.09),(0.57,-0.23),(0.58,0.3),(0.59,0.13),(0.59,0.14),(0.64,0.84),(0.64,-0.41),(0.66,-0.57),
    (0.66,-0.25),(0.68,-0.43),(0.69,-0.4),(0.69,-0.06),(0.70,0.07),(0.70,-0.43),(0.71,-0.57),(0.71,-0.35),(0.72,-0.34),
    (0.72,-0.67),(0.75,-0.4),(0.76,-0.61),(0.80,0.21),(0.81,-0.07),(0.82,-0.42),(0.82,0.02),(0.85,-0.16),(0.86,-0.45),
    (0.87,-0.45),(0.90,-0.45),(0.94,-0.26),(0.94,0.28),(0.94,-0.01),(0.95,0.53),(0.97,0.11),(0.97,0.32)]
d8_truth = [
    [(0.8,0),(0.7,0.01),(0.6,0.03),(0.5,0.08),(0.45,0.14),(0.4,0.22),(0.36,0.32),(0.3,0.2),(0.2,0.18),(0.1,0.2),(0.0,0.23),
     (-0.05,0.235),(-0.15,0.17),(-0.25,0.11),(-0.35,0.06),(-0.45,0.025),(-0.55,0.008),(-0.7,0)],
    [(1.75,0),(1.6,0.01),(1.5,0.06),(1.42,0.2),(1.35,0.31),(1.28,0.2),(1.2,0.14),(1.1,0.15),(1.0,0.17),(0.93,0.18),(0.8,0.12),
     (0.7,0.07),(0.6,0.04),(0.5,0.02),(0.4,0.005),(0.3,0)],
    [(0.85,0),(0.72,0.01),(0.62,0.04),(0.55,0.1),(0.5,0.2),(0.45,0.31),(0.38,0.2),(0.3,0.17),(0.2,0.2),(0.12,0.22),(0.05,0.2),
     (-0.05,0.15),(-0.15,0.12),(-0.25,0.09),(-0.35,0.06),(-0.45,0.025),(-0.55,0.008),(-0.7,0)]]
d8_kqr = [
    [(0.85,0),(0.75,0.005),(0.65,0.02),(0.55,0.06),(0.5,0.12),(0.45,0.2),(0.38,0.255),(0.3,0.15),(0.2,0.13),(0.12,0.13),
     (0.05,0.1),(-0.05,0.12),(-0.16,0.14),(-0.25,0.08),(-0.3,0.03),(-0.4,0.005),(-0.5,0)],
    [(1.7,0),(1.55,0.003),(1.5,0.03),(1.45,0.08),(1.37,0.12),(1.3,0.115),(1.22,0.14),(1.12,0.17),(1.05,0.19),(0.97,0.22),
     (0.9,0.15),(0.82,0.09),(0.72,0.06),(0.62,0.04),(0.52,0.02),(0.4,0.005),(0.3,0)],
    [(0.9,0),(0.8,0.005),(0.7,0.02),(0.62,0.025),(0.55,0.05),(0.45,0.1),(0.38,0.15),(0.3,0.2),(0.25,0.225),(0.15,0.17),
     (0.05,0.15),(-0.05,0.17),(-0.15,0.12),(-0.22,0.06),(-0.3,0.03),(-0.4,0.01),(-0.5,0.003),(-0.6,0)]]

PANELS = [(d1_pts, d1_truth, d1_kqr), (d2_pts, d2_truth, d2_kqr), (d3_pts, d3_truth, d3_kqr),
          (d4_pts, d4_truth, d4_kqr), (d5_pts, d5_truth, d5_kqr), (d6_pts, d6_truth, d6_kqr),
          (d7_pts, d7_truth, d7_kqr), (d8_pts, d8_truth, d8_kqr)]

# caption font: monospace latin + CJK full-width punctuation
_names = {f.name for f in fm.fontManager.ttflist}
if 'Noto Sans Mono CJK JP' in _names:
    CAP_FONT = ['Noto Sans Mono CJK JP', 'DejaVu Sans']
    CAP_SIZE = 16
else:
    CAP_FONT = ['DejaVu Sans Mono', 'Noto Sans CJK JP']
    CAP_SIZE = 15

DASH = (0, (2.2, 1.8))

fig = plt.figure(figsize=(9.69, 15.46), dpi=100)
W, H = 9.69 * 100, 15.46 * 100
ax_w, ax_h = 428 / W, 296 / H
lefts = [46 / W, 544 / W]
tops = [14, 400, 786, 1172]

for i, (pts, truth, kqr) in enumerate(PANELS):
    row, col = divmod(i, 2)
    ax = fig.add_axes([lefts[col], 1 - (tops[row] + 296) / H, ax_w, ax_h])
    ax.set_xlim(-1, 1)
    ax.set_ylim(-3, 3)
    ax.set_xticks([-1, -0.5, 0, 0.5, 1])
    # right column runs past the figure edge, its "1" label falls outside
    ax.set_xticklabels(['-1', '-0.5', '0', '0.5', '1' if col == 0 else ''])
    ax.set_yticks([-3, -2, -1, 0, 1, 2, 3])
    ax.set_yticklabels(['-3', '-2', '-1', '0', '1', '2', '3'])
    ax.tick_params(direction='in', length=3, width=0.6, labelsize=6.5, top=True, right=True, pad=3)
    ax.grid(True, ls=(0, (1, 2)), lw=0.8, color='#222222')
    for sp in ax.spines.values():
        sp.set_linewidth(1.2)

    for x0, c in zip(LOCS, truth):
        ys, dxs = zip(*c)
        ax.plot(x0 + np.r_[0, dxs, 0], np.r_[3, ys, -3], color='k', ls=DASH, lw=0.9)
    for x0, c in zip(LOCS, kqr):
        ys, dxs = zip(*c)
        ax.plot(x0 + np.r_[0, dxs, 0], np.r_[3, ys, -3], color='k', lw=1.2)

    px, py = zip(*pts)
    ax.plot(px, py, 'o', color='k', ms=4.0, mew=0, zorder=3)

    handles = [Line2D([], [], color='k', ls=DASH, lw=0.9, label='Truth'),
               Line2D([], [], color='k', lw=1.2, label='KQR-path')]
    ax.legend(handles=handles, loc='upper right', frameon=False, markerfirst=False, fontsize=6.5,
              handlelength=3.0, handletextpad=0.6, labelspacing=0.1, borderaxespad=0.2, borderpad=0.3)

    ax.set_xlabel('Input x', fontsize=6.5)
    ax.set_ylabel('Output y', fontsize=6.5)
    ax.xaxis.set_label_coords(0.5, -0.075)
    ax.yaxis.set_label_coords(-0.063, 0.5)

    ax.text(0.5, -0.193, TITLES[i], transform=ax.transAxes, ha='center', va='center',
            fontsize=CAP_SIZE, family=CAP_FONT)

fig.savefig('out.png', dpi=100)
